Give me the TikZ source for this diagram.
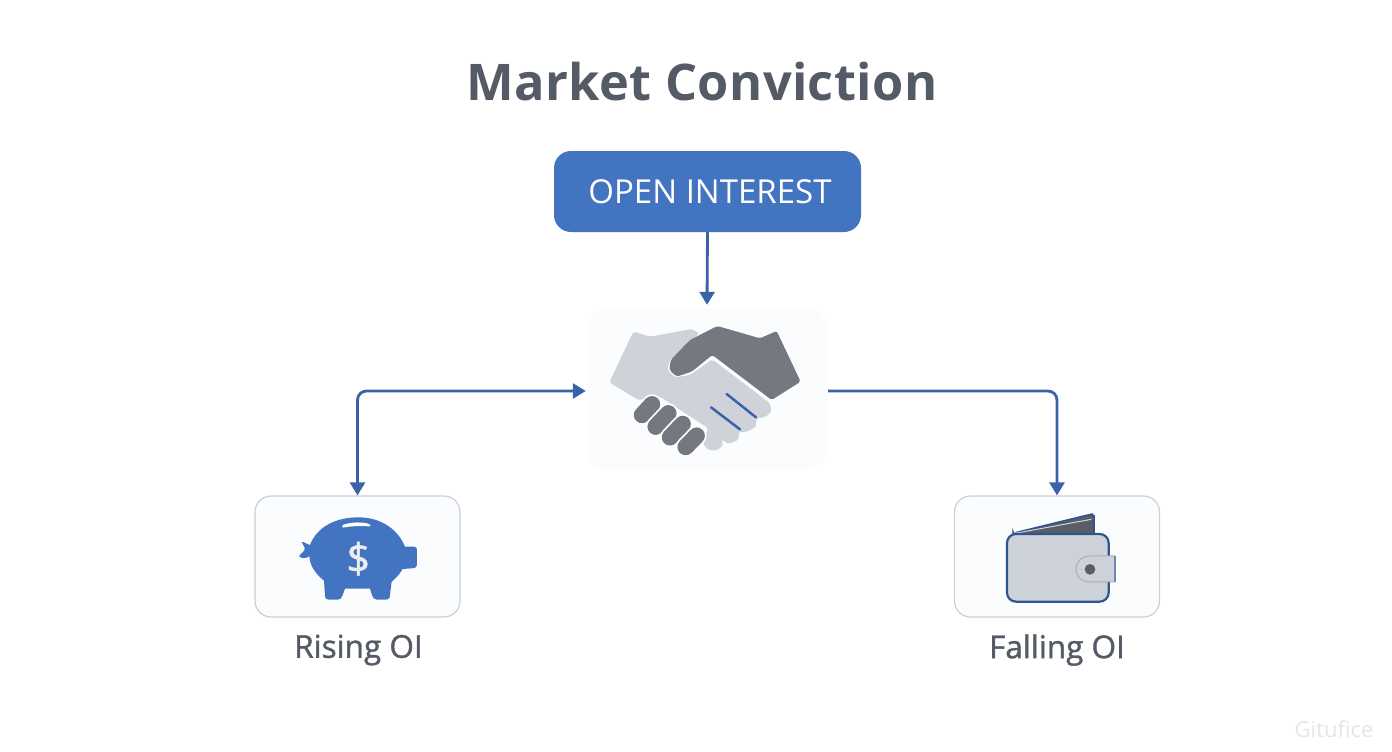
\documentclass[tikz,border=0pt]{standalone}
\usepackage{fontspec}
\setmainfont{Open Sans}
\newfontfamily\semi[LetterSpace=0.8]{Open Sans}
\newfontfamily\medi[FakeBold=1.2]{Open Sans}
\usetikzlibrary{arrows.meta}
\definecolor{ink}{HTML}{555B66}
\definecolor{blueA}{HTML}{4374C1}
\definecolor{lineB}{HTML}{3A62A8}
\definecolor{edgeG}{HTML}{C9D0DA}
\definecolor{lightH}{HTML}{CFD3D9}
\definecolor{darkH}{HTML}{757880}
\definecolor{boxF}{HTML}{FBFCFE}
\definecolor{walletL}{HTML}{CDD2D9}
\definecolor{walletD}{HTML}{5A5D66}
\definecolor{walletE}{HTML}{2F5590}
\definecolor{wmk}{HTML}{E4E6EA}
\tikzset{
  x=1pt,y=-1pt,
  conn/.style={draw=lineB,line width=2.8pt,rounded corners=9pt,-{Triangle[length=13pt,width=15pt]}},
  conn2/.style={draw=lineB,line width=2.8pt,rounded corners=9pt,{Triangle[length=13pt,width=15pt]}-{Triangle[length=13pt,width=15pt]}},
  iconbox/.style={draw=edgeG,line width=1.2pt,fill=boxF,rounded corners=16pt,minimum width=205pt,minimum height=121pt,inner sep=0pt},
  label/.style={text=ink,font=\medi\fontsize{31.5}{34}\selectfont,inner sep=0pt},
  handL/.style={fill=lightH,draw=none},
  handD/.style={fill=darkH,draw=none},
  fingerO/.style={draw=white,line width=20pt,line cap=round},
  fingerI/.style={draw=darkH,line width=16.5pt,line cap=round},
  slit/.style={draw=lineB,line width=2.5pt,line cap=round},
}
\begin{document}
\begin{tikzpicture}
\useasboundingbox (0,0) rectangle (1392,752);
\fill[white] (0,0) rectangle (1392,752);
\node[text=ink,font=\semi\bfseries\fontsize{50.5}{54}\selectfont,inner sep=0pt] (title) at (702,82) {Market Conviction};
\node[fill=blueA,rounded corners=17pt,minimum width=307pt,minimum height=81pt,inner sep=0pt,text=white,font=\fontsize{33}{36}\selectfont] (oi) at (707.5,191.5) {\hspace{5pt}OPEN INTEREST};
\node[fill=boxF,rounded corners=22pt,minimum width=240pt,minimum height=162pt,inner sep=0pt] (hand) at (707,389) {};
\node[iconbox] (rise) at (357.5,556.5) {};
\node[iconbox] (fall) at (1057,556.5) {};
\node[label] (risel) at (358.5,650) {Rising OI};
\node[label] (falll) at (1057,650) {Falling OI};
\node[text=wmk,font=\fontsize{22}{24}\selectfont,inner sep=0pt] (mark) at (1334,729) {Gitufice};
% connectors
\draw[conn] (oi.south) -- ([yshift=3pt]hand.north);
\draw[conn2] (rise.north) |- ([yshift=-2pt,xshift=-1pt]hand.west);
\draw[conn] ([yshift=-2pt,xshift=1pt]hand.east) -| (fall.north);
% handshake
\begin{scope}[shift={(580,300)},x=0.3333pt,y=-0.3333pt]
  \path[handL,rounded corners=2pt] (160,95) -- (210,110) -- (335,87) -- (358,100) -- (330,125) -- (270,180) -- (262,210) -- (285,232) -- (330,225) -- (397,178) -- (570,310) -- (575,335) -- (555,352) -- (530,355) -- (527,382) -- (495,397) -- (478,395) -- (475,420) -- (445,432) -- (425,418) -- (430,435) -- (410,452) -- (385,450) -- (368,430) -- (385,385) -- (240,290) -- (175,300) -- (88,247) -- cycle;
  \path[handD,rounded corners=2pt] (412,78) -- (540,115) -- (590,93) -- (662,245) -- (575,300) -- (397,165) -- (335,215) -- (290,230) -- (268,210) -- (272,180) -- (330,120) -- cycle;
  \draw[slit] (440,282) -- (528,352);
  \draw[slit] (393,322) -- (480,388);
  \draw[fingerO] (186,345) -- (216,313);
  \draw[fingerI] (186,345) -- (216,313);
  \draw[fingerO] (227,380) -- (265,340);
  \draw[fingerI] (227,380) -- (265,340);
  \draw[fingerO] (270,412) -- (308,372);
  \draw[fingerI] (270,412) -- (308,372);
  \draw[fingerO] (317,441) -- (350,407);
  \draw[fingerI] (317,441) -- (350,407);
\end{scope}
% piggy
\begin{scope}[shift={(250,490)},x=0.3333pt,y=-0.3333pt]
  \fill[blueA] (180,165) .. controls (200,112) and (255,82) .. (325,82)
    .. controls (395,82) and (445,120) .. (465,170)
    -- (492,170) .. controls (500,170) and (501,175) .. (501,182)
    -- (501,222) .. controls (501,232) and (495,235) .. (485,235)
    -- (458,237) .. controls (445,258) and (432,270) .. (425,275)
    -- (419,322) .. controls (417,328) and (412,329) .. (405,329)
    -- (380,329) .. controls (372,329) and (368,322) .. (365,312)
    -- (360,296) -- (285,296) -- (277,318) .. controls (274,326) and (270,329) .. (262,329)
    -- (237,329) .. controls (229,329) and (225,325) .. (225,318)
    -- (222,272) .. controls (195,250) and (178,225) .. (178,195) -- cycle;
  \fill[blueA,rounded corners=2pt] (190,170) -- (153,153) -- (167,178) -- (145,200) -- (165,206) -- (190,192) -- cycle;
  \fill[white,rounded corners=1.5pt] (276,106) .. controls (300,96) and (340,95) .. (362,104) -- (362,110) .. controls (340,107) and (300,108) .. (276,114) -- cycle;
  \node[text=lightH!40!white,font=\medi\fontsize{41}{44}\selectfont,inner sep=0pt] (dollar) at (325,206) {\$};
\end{scope}
% wallet
\begin{scope}[shift={(950,490)},x=0.3333pt,y=-0.3333pt]
  \draw[fill=walletD,draw=walletE,line width=1.8pt,rounded corners=4pt] (190,130) -- (415,75) .. controls (425,73) and (432,80) .. (432,90) -- (432,140) -- (190,140) -- cycle;
  \draw[draw=lightH,line width=1pt] (195,130) -- (424,88);
  \draw[fill=walletL,draw=walletE,line width=2.2pt,rounded corners=9pt] (171,132) -- (476,132) -- (476,335) -- (171,335) -- cycle;
  \draw[fill=walletL,draw=lightH!70!ink,line width=1pt] (495,198) -- (420,198) .. controls (395,198) and (378,215) .. (378,238) .. controls (378,260) and (395,276) .. (420,276) -- (495,276) -- cycle;
  \draw[draw=walletE!70!white,line width=1.2pt] (495,198) -- (495,276);
  \fill[walletD] (420,238) circle (16);
\end{scope}
\end{tikzpicture}
\end{document}
